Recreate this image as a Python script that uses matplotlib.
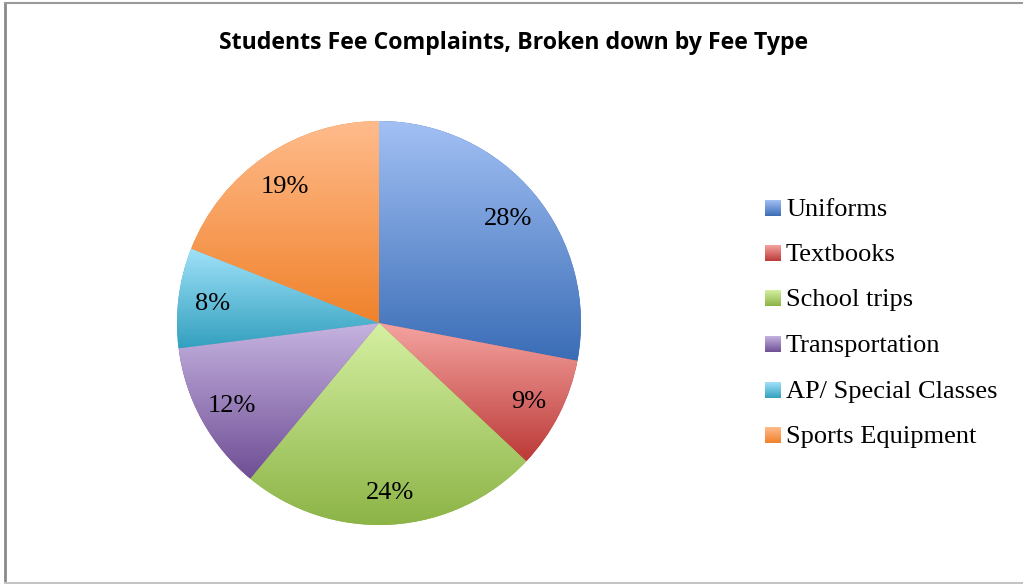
import numpy as np
import matplotlib.pyplot as plt
from matplotlib.colors import to_rgb
from matplotlib.lines import Line2D

labels = ['Uniforms', 'Textbooks', 'School trips', 'Transportation',
          'AP/ Special Classes', 'Sports Equipment']
shares = [28, 9, 24, 12, 8, 19]
# light (top) / dark (bottom) colour of each slice gradient
tops = ['#A2C0F4', '#F5A4A1', '#D5F0A2', '#C5B3E0', '#A0E2F9', '#FFBB8C']
bottoms = ['#3A6DB6', '#BB3A37', '#8BB345', '#6F4E95', '#33A0BF', '#F0822B']


def gradient(top, bottom, n=256):
    t = np.linspace(0, 1, n)[:, None]
    a = np.array(to_rgb(bottom))
    b = np.array(to_rgb(top))
    g = a + (b - a) * t
    return g[:, None, :]


W, H = 1023, 584
serif = 'Liberation Serif'
fig = plt.figure(figsize=(W / 100, H / 100), dpi=100)

# frame like the spreadsheet chart area
fig.add_artist(Line2D([4.5 / W, 4.5 / W], [0, 1 - 3 / H], color='#8a8a8a', lw=2))
fig.add_artist(Line2D([4.5 / W, 1], [1 - 3 / H, 1 - 3 / H], color='#9a9a9a', lw=1.5))
fig.add_artist(Line2D([4.5 / W, 1], [1.5 / H, 1.5 / H], color='#c4c4c4', lw=1.5))

fig.text(514 / W, 1 - 43 / H, 'Students Fee Complaints, Broken down by Fee Type',
         ha='center', va='center', fontsize=16.7, fontweight='bold',
         family='Open Sans')

ax = fig.add_axes([177 / W, 59 / H, 404 / W, 404 / H])
wedges, texts, autotexts = ax.pie(shares, startangle=90, counterclock=False,
                                  radius=1, autopct='%1.0f%%', pctdistance=0.83,
                                  colors=bottoms,
                                  wedgeprops=dict(linewidth=0),
                                  textprops=dict(fontsize=19, family=serif,
                                                 color='black'))
for w, top, bot in zip(wedges, tops, bottoms):
    v = w.get_path().vertices
    x0, x1 = v[:, 0].min(), v[:, 0].max()
    y0, y1 = v[:, 1].min(), v[:, 1].max()
    im = ax.imshow(gradient(top, bot), extent=(x0, x1, y0, y1), origin='lower',
                   aspect='auto', interpolation='bilinear', zorder=1.5)
    im.set_clip_path(w)
for t in autotexts:
    t.set_zorder(3)
    t.set_va('center_baseline')
ax.set_xlim(-1, 1)
ax.set_ylim(-1, 1)
ax.set_aspect('equal')
ax.axis('off')

# legend with gradient swatches
lax = fig.add_axes([0, 0, 1, 1], zorder=-1)
lax.set_xlim(0, W)
lax.set_ylim(H, 0)
lax.axis('off')
rows = [208, 253, 298, 344, 390, 435]
for lab, top, bot, y in zip(labels, tops, bottoms, rows):
    lax.imshow(gradient(top, bot), extent=(765, 781, y + 8, y - 8), origin='lower',
               aspect='auto', interpolation='bilinear')
    lax.text(786, y + 2, lab, va='center', ha='left', fontsize=19, family=serif)
lax.set_xlim(0, W)
lax.set_ylim(H, 0)

fig.savefig('out.png', dpi=100)
